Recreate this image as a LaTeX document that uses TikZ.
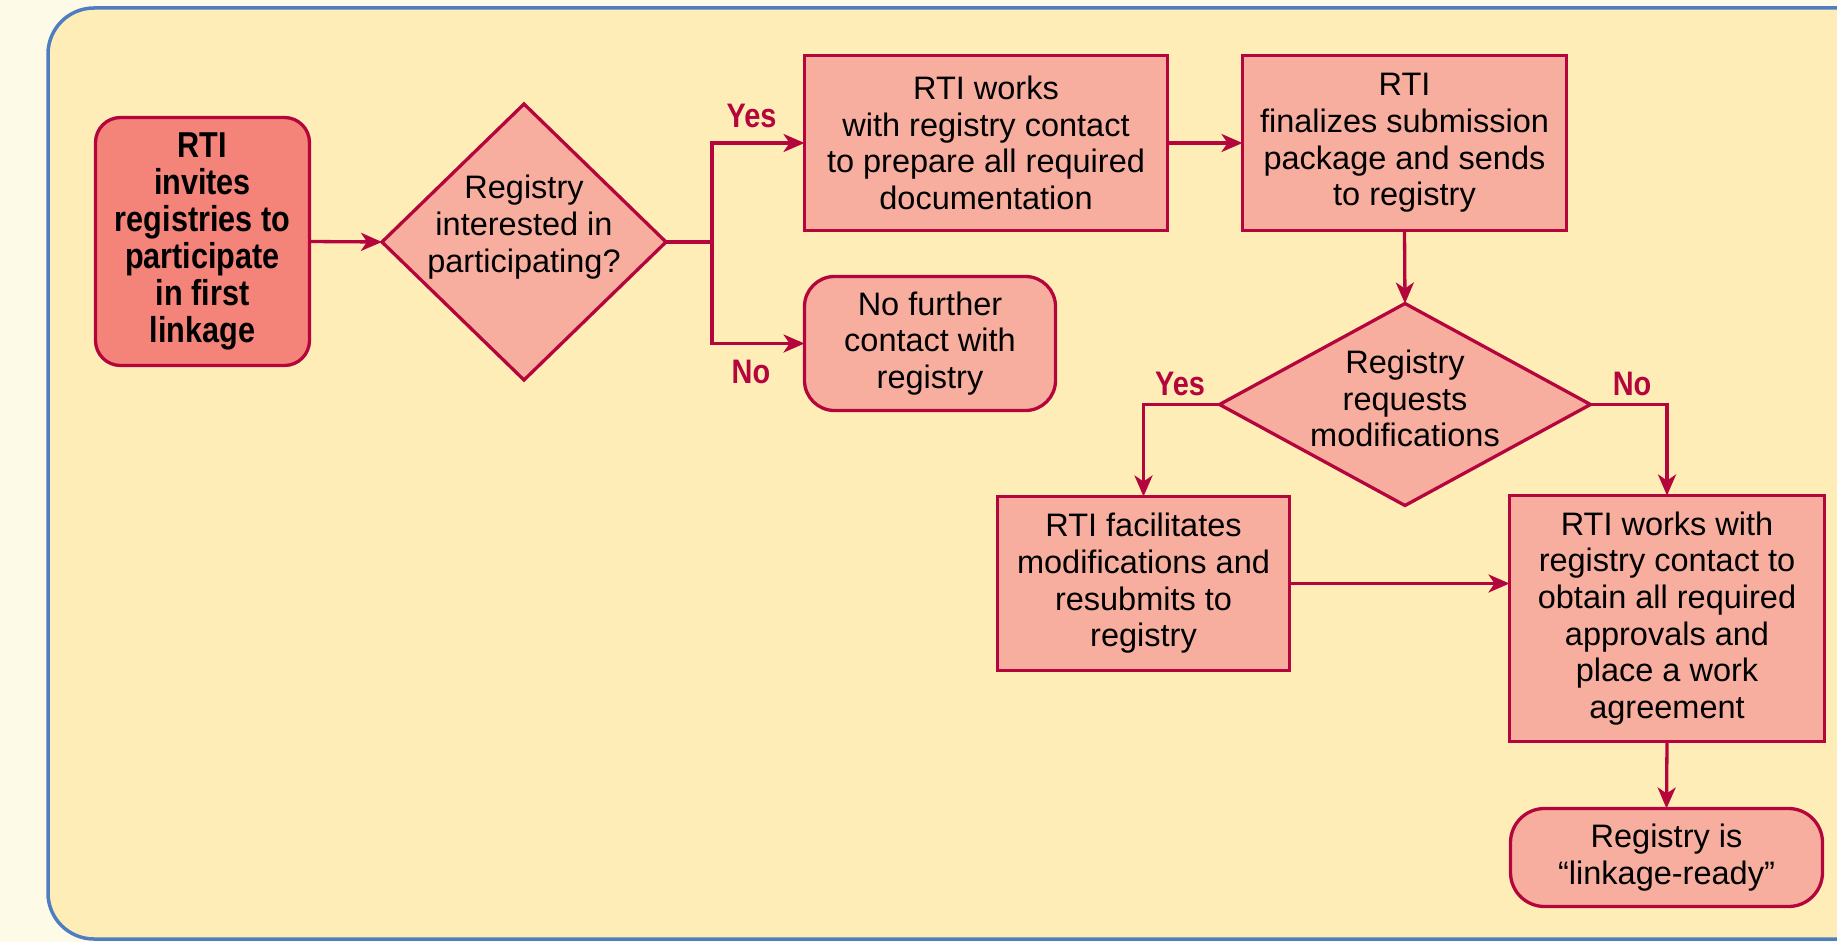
\documentclass[tikz,border=0pt]{standalone}
\usepackage{fontspec}
\setmainfont{Liberation Sans}
\newfontfamily\cbf{Liberation Sans}[FakeStretch=0.85]
\usetikzlibrary{shapes.geometric,arrows.meta}
\definecolor{bgout}{HTML}{FEFAE8}
\definecolor{bgin}{HTML}{FFEDB8}
\definecolor{frameblue}{HTML}{4F7DC1}
\definecolor{linered}{HTML}{B4063C}
\definecolor{boxfill}{HTML}{F7AE9F}
\definecolor{startfill}{HTML}{F4837A}
\begin{document}
\begin{tikzpicture}[x=1pt,y=-1pt,
  every node/.style={inner sep=0pt, outer sep=0pt, align=center},
  txt/.style={font=\fontsize{32.5}{36.7}\selectfont},
  boxshape/.style={draw=linered, line width=3.3pt, fill=boxfill, txt},
  startbox/.style={draw=linered, line width=3.3pt, fill=startfill, rounded corners=25pt,
     font=\cbf\bfseries\fontsize{36}{37.1}\selectfont},
  dia/.style={diamond, draw=linered, line width=3.3pt, fill=boxfill},
  lbl/.style={anchor=base, text=linered, font=\cbf\bfseries\fontsize{34}{36}\selectfont},
  conn/.style={draw=linered, line width=3.3pt, -{Stealth[length=21pt,width=18pt,inset=6pt]}}
]
\useasboundingbox (0,0) rectangle (1837,942);
\fill[bgout] (0,0) rectangle (1837,942);
\draw[frameblue, fill=bgin, line width=3.5pt, rounded corners=46pt] (48,8) rectangle (1950,939);

% nodes
\node[startbox, minimum width=214, minimum height=248] (s) at (202.5,241.5)
  {RTI\\invites\\registries to\\participate\\in first\\linkage};

\node[dia, minimum width=284, minimum height=276] (d1) at (524,242) {};
\node[txt] (d1t) at ([yshift=15pt]d1.center) {Registry\\interested in\\participating?};

\node[boxshape, minimum width=363, minimum height=175] (b2) at (986,143)
  {RTI works\\with registry contact\\to prepare all required\\documentation};

\node[boxshape, rounded corners=30pt, minimum width=251, minimum height=134] (nf) at (930,343.5)
  {No further\\contact with\\registry};

\node[boxshape, minimum width=324, minimum height=175] (b3) at (1404.5,143)
  {RTI\\finalizes submission\\package and sends\\to registry};

\node[dia, minimum width=371, minimum height=202] (d2) at (1405,404.5) {};
\node[txt] (d2t) at ([yshift=6pt]d2.center) {Registry\\requests\\modifications};

\node[boxshape, minimum width=292, minimum height=174] (fac) at (1143.5,583.5)
  {RTI facilitates\\modifications and\\resubmits to\\registry};

\node[boxshape, minimum width=315, minimum height=246] (rb) at (1667,618.5)
  {RTI works with\\registry contact to\\obtain all required\\approvals and\\place a work\\agreement};

\node[boxshape, rounded corners=34pt, minimum width=312, minimum height=98] (lr) at (1666.5,857.5)
  {Registry is\\“linkage-ready”};

% labels
\node[lbl] (y1) at (751.5,128) {Yes};
\node[lbl] (n1) at (751,383) {No};
\node[lbl] (y2) at (1180,395) {Yes};
\node[lbl] (n2) at (1632,395) {No};

% connectors
\coordinate (j1) at (712,242);
\draw[conn] (s.east) -- (d1.west);
\draw[conn] (d1.east) -- (j1) |- (b2.west);
\draw[conn] (d1.east) -- (j1) |- (nf.west);
\draw[conn] (b2.east) -- (b3.west);
\draw[conn] (b3.south) -- (d2.north);
\draw[conn] (d2.west) -| (fac.north);
\draw[conn] (d2.east) -| (rb.north);
\draw[conn] (fac.east) -- (rb.west |- fac.east);
\draw[conn] (rb.south) -- (lr.north);
\end{tikzpicture}
\end{document}
